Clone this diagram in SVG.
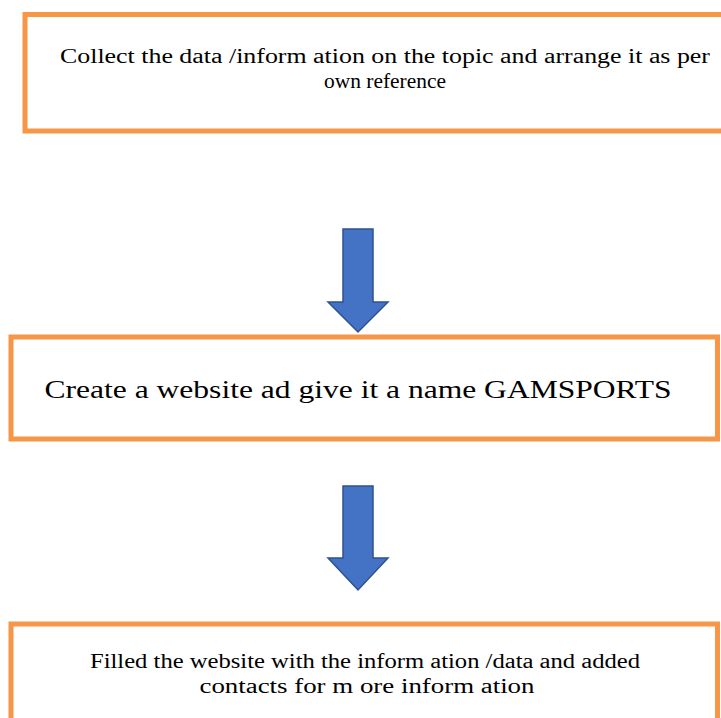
<svg xmlns="http://www.w3.org/2000/svg" width="721" height="718" viewBox="0 0 721 718">
<defs>
<style>
.box{fill:#ffffff;stroke:#F79646;stroke-width:5}
.arrow{fill:#4472C4;stroke:#2F528F;stroke-width:1.5;stroke-linejoin:miter}
.t{font-family:"Liberation Serif","Times New Roman",serif;fill:#000000;text-anchor:middle}
</style>
</defs>
<rect width="721" height="718" fill="#ffffff"/>
<g id="connectors">
<path class="arrow" d="M343,229 H373 V302 H388 L358,332 L328,302 H343 Z"/>
<path class="arrow" d="M343,486 H373 V558 H388 L358,590 L328,558 H343 Z"/>
</g>
<g id="node1">
<rect class="box" x="25" y="14.5" width="720" height="116.5"/>
<text class="t" x="385" y="63" font-size="20" textLength="650" lengthAdjust="spacingAndGlyphs">Collect the data /inform ation on the topic and arrange it as per</text>
<text class="t" x="385" y="88" font-size="20" textLength="122" lengthAdjust="spacingAndGlyphs">own reference</text>
</g>
<g id="node2">
<rect class="box" x="11" y="337" width="706.5" height="102"/>
<text class="t" x="358" y="398" font-size="26" textLength="627" lengthAdjust="spacingAndGlyphs">Create a website ad give it a name GAMSPORTS</text>
</g>
<g id="node3">
<rect class="box" x="11" y="624" width="706.5" height="110"/>
<text class="t" x="365" y="668" font-size="20" textLength="550" lengthAdjust="spacingAndGlyphs">Filled the website with the inform ation /data and added</text>
<text class="t" x="367" y="693" font-size="20" textLength="335" lengthAdjust="spacingAndGlyphs">contacts for m ore inform ation</text>
</g>
</svg>
